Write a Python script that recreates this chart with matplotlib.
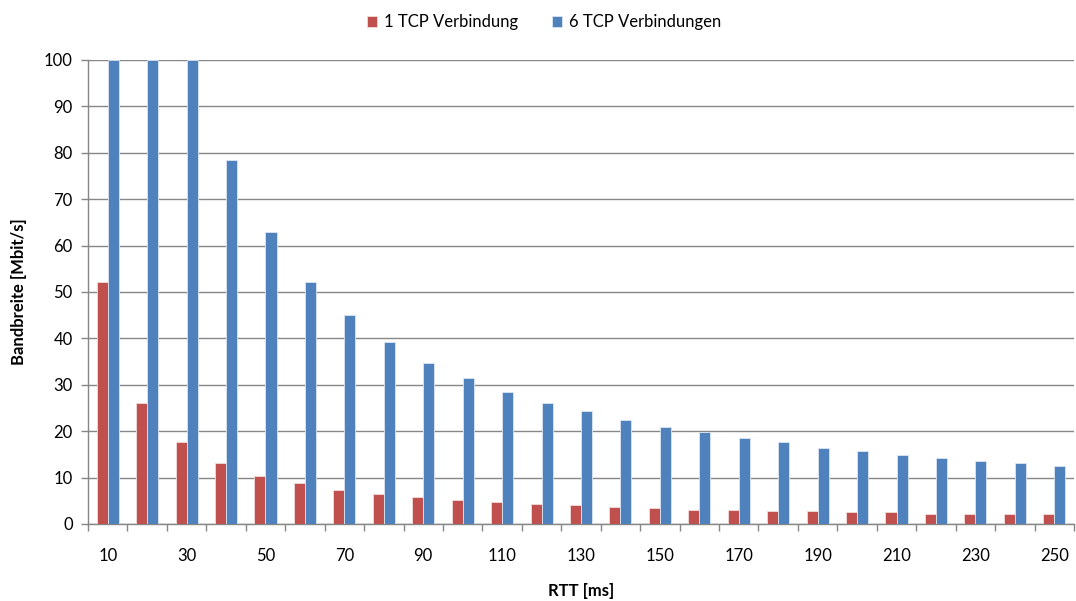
import numpy as np
import matplotlib.pyplot as plt
from matplotlib.ticker import FixedLocator, NullFormatter

plt.rcParams['font.family'] = ['Lato', 'DejaVu Sans']

# RTT in ms
rtt = [10, 20, 30, 40, 50, 60, 70, 80, 90, 100, 110, 120, 130,
       140, 150, 160, 170, 180, 190, 200, 210, 220, 230, 240, 250]
# Bandbreite in Mbit/s
eine_verbindung = [52.2, 26.0, 17.6, 13.1, 10.3, 8.8, 7.3, 6.4, 5.75, 5.2,
                   4.7, 4.3, 4.0, 3.7, 3.4, 3.1, 3.1, 2.7, 2.7, 2.5,
                   2.5, 2.15, 2.15, 2.15, 2.15]
sechs_verbindungen = [100, 100, 100, 78.4, 62.9, 52.2, 45.0, 39.2, 34.7, 31.5,
                      28.4, 26.1, 24.4, 22.4, 20.8, 19.8, 18.5, 17.6, 16.4, 15.7,
                      14.9, 14.2, 13.6, 13.1, 12.4]

rot = '#C0504D'
blau = '#4F81BD'
grau = '#868686'

fig = plt.figure(figsize=(10.76, 6.01), dpi=100)
ax = fig.add_axes([88 / 1076, 1 - 524 / 601, 986 / 1076, 464 / 601])

x = np.arange(len(rtt))
w = 0.28
ax.bar(x - w / 2, eine_verbindung, w, color=rot, edgecolor='#F2DCDB', linewidth=0.6,
       label='1 TCP Verbindung', zorder=3)
ax.bar(x + w / 2, sechs_verbindungen, w, color=blau, edgecolor='#DCE6F2', linewidth=0.6,
       label='6 TCP Verbindungen', zorder=3)

ax.set_xlim(-0.5, len(rtt) - 0.5)
ax.set_ylim(0, 100)
ax.set_yticks(range(0, 101, 10))
ax.yaxis.grid(True, color=grau, linewidth=1.0, zorder=0)

# labels only on every second category, tick marks between the categories
ax.set_xticks(x[::2])
ax.set_xticklabels([str(v) for v in rtt[::2]])
ax.xaxis.set_minor_locator(FixedLocator(np.arange(-0.5, len(rtt), 1)))
ax.xaxis.set_minor_formatter(NullFormatter())
ax.tick_params(axis='x', which='major', length=0, pad=17, labelsize=12)
ax.tick_params(axis='x', which='minor', length=5, color=grau, width=1)
ax.tick_params(axis='y', length=5, color=grau, width=1, labelsize=12, pad=6)

for s in ['top', 'right']:
    ax.spines[s].set_visible(False)
for s in ['left', 'bottom']:
    ax.spines[s].set_color(grau)
    ax.spines[s].set_linewidth(1.0)

ax.set_xlabel('RTT [ms]', fontweight='bold', fontsize=12, labelpad=14)
ax.set_ylabel('Bandbreite [Mbit/s]', fontweight='bold', fontsize=12, labelpad=12)

fig.legend(loc='center', bbox_to_anchor=(544 / 1076, 1 - 22 / 601), ncol=2,
           frameon=False, fontsize=12, handlelength=0.65, handleheight=0.65,
           columnspacing=2.0, handletextpad=0.4)

fig.savefig('out.png', dpi=100)
